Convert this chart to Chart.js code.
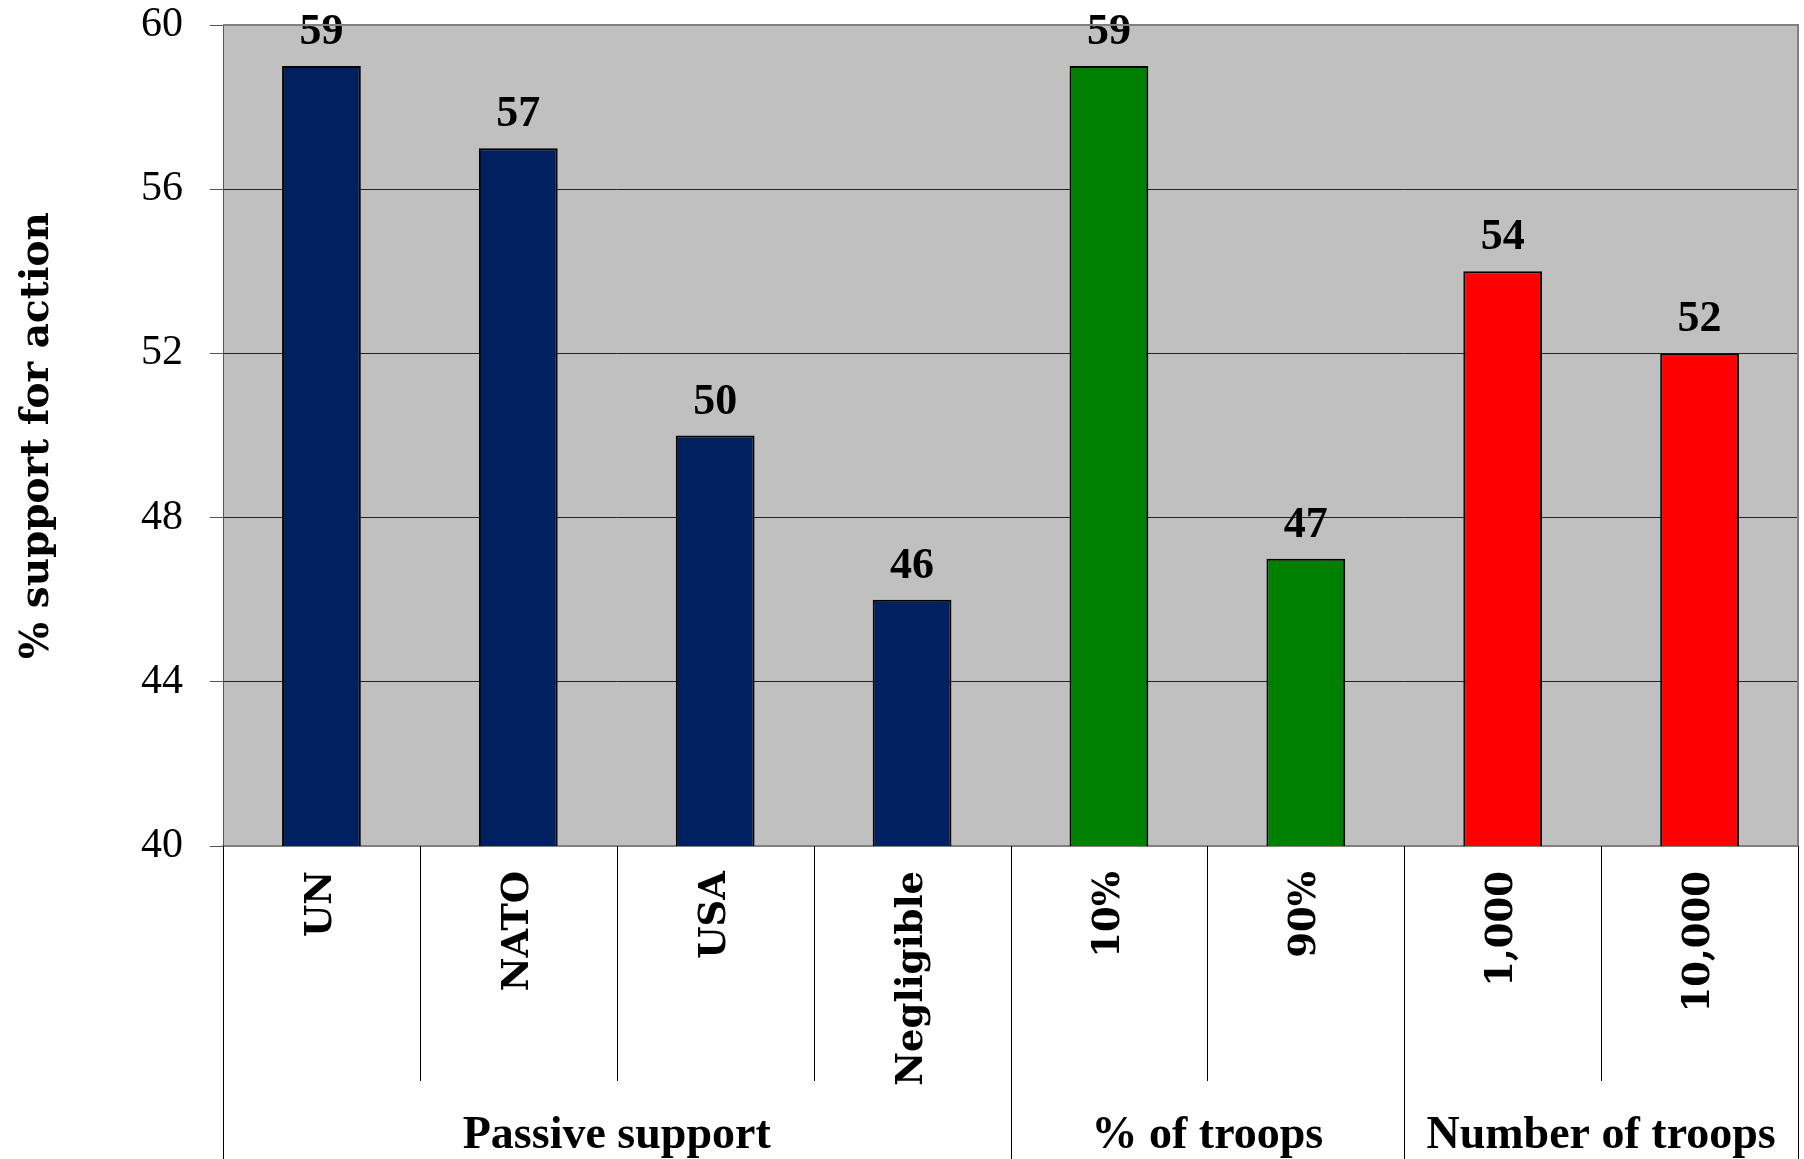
<!DOCTYPE html>
<html>
<head>
<meta charset="utf-8">
<script src="https://cdn.jsdelivr.net/npm/chart.js@4"></script>
<style>
  html, body { margin: 0; padding: 0; background: #fff; }
  #wrap { width: 1804px; height: 1159px; position: relative; }
</style>
</head>
<body>
<div id="wrap"><canvas id="supportChart"></canvas></div>
<script>
// data
const categories = ['UN', 'NATO', 'USA', 'Negligible', '10%', '90%', '1,000', '10,000'];
const supportValues = [59, 57, 50, 46, 59, 47, 54, 52];
const groupNames = ['Passive support', '% of troops', 'Number of troops'];
const groupSizes = [4, 2, 2];
const yTicks = [40, 44, 48, 52, 56, 60];

const barColors = ['#002060', '#002060', '#002060', '#002060', '#008000', '#008000', '#FF0000', '#FF0000'];

// grey plot background + border
const plotBackground = {
    id: 'plotBackground',
    beforeDraw(chart) {
        const { ctx, chartArea: a } = chart;
        ctx.save();
        ctx.fillStyle = '#C0C0C0';
        ctx.fillRect(a.left, a.top, a.right - a.left, a.bottom - a.top);
        ctx.restore();
    },
    afterDraw(chart) {
        const { ctx, chartArea: a } = chart;
        ctx.save();
        ctx.strokeStyle = '#808080';
        ctx.lineWidth = 2;
        ctx.beginPath();
        ctx.moveTo(a.left, a.top);
        ctx.lineTo(a.right, a.top);
        ctx.lineTo(a.right, a.bottom);
        ctx.stroke();
        ctx.restore();
    }
};

// numbers over the bars
const valueLabels = {
    id: 'valueLabels',
    afterDatasetsDraw(chart) {
        const { ctx } = chart;
        const meta = chart.getDatasetMeta(0);
        ctx.save();
        ctx.font = 'bold 44px "Liberation Serif"';
        ctx.fillStyle = '#000';
        ctx.textAlign = 'center';
        ctx.textBaseline = 'alphabetic';
        meta.data.forEach((bar, i) => {
            ctx.fillText(String(supportValues[i]), bar.x, bar.y - 22);
        });
        ctx.restore();
    }
};

// category dividers and group labels under the axis
const groupAxis = {
    id: 'groupAxis',
    afterDraw(chart) {
        const { ctx, chartArea: a } = chart;
        const x = chart.scales.x;
        const bottom = chart.height;
        const shortEnd = a.bottom + 235;
        const edge = i => {
            if (i <= 0) return a.left;
            if (i >= categories.length) return a.right;
            return (x.getPixelForValue(i - 1) + x.getPixelForValue(i)) / 2;
        };
        const groupEdges = [0];
        groupSizes.forEach(n => groupEdges.push(groupEdges[groupEdges.length - 1] + n));

        ctx.save();
        ctx.strokeStyle = '#000';
        ctx.lineWidth = 1;
        for (let i = 0; i <= categories.length; i++) {
            const px = Math.round(edge(i)) + 0.5;
            const isGroup = groupEdges.includes(i);
            ctx.beginPath();
            ctx.moveTo(px, a.bottom);
            ctx.lineTo(px, isGroup ? bottom : shortEnd);
            ctx.stroke();
        }
        ctx.font = 'bold 46px "Liberation Serif"';
        ctx.fillStyle = '#000';
        ctx.textAlign = 'center';
        ctx.textBaseline = 'alphabetic';
        groupNames.forEach((name, g) => {
            const cx = (edge(groupEdges[g]) + edge(groupEdges[g + 1])) / 2;
            ctx.fillText(name, cx, a.bottom + 302);
        });
        ctx.restore();
    }
};

const ctx = document.getElementById('supportChart').getContext('2d');
new Chart(ctx, {
    type: 'bar',
    data: {
        labels: categories,
        datasets: [{
            data: supportValues,
            backgroundColor: barColors,
            borderColor: '#000',
            borderWidth: 2,
            borderSkipped: false,
            barPercentage: 0.4,
            categoryPercentage: 1.0
        }]
    },
    options: {
        responsive: true,
        maintainAspectRatio: false,
        animation: false,
        layout: { padding: { top: 25, right: 6, left: 0, bottom: 0 } },
        plugins: {
            legend: { display: false },
            tooltip: { enabled: false }
        },
        scales: {
            x: {
                afterFit: s => { s.height = 313; s.paddingTop = 0; },
                grid: { display: false, drawTicks: false },
                border: { display: true, color: '#808080', width: 2 },
                ticks: {
                    autoSkip: false,
                    minRotation: 90,
                    maxRotation: 90,
                    padding: 25,
                    color: '#000',
                    font: { family: '"DejaVu Serif"', size: 37, weight: 'bold' }
                }
            },
            y: {
                min: 40,
                max: 60,
                afterFit: s => { s.width = 223; s.paddingTop = 0; s.paddingBottom = 0; },
                afterBuildTicks: s => { s.ticks = yTicks.map(v => ({ value: v })); },
                grid: { color: '#222', lineWidth: 1, tickLength: 13, tickColor: '#555' },
                border: { display: true, color: '#555', width: 1 },
                ticks: {
                    padding: 27,
                    color: '#000',
                    font: { family: '"Liberation Serif"', size: 42 }
                },
                title: {
                    display: true,
                    text: '% support for action',
                    color: '#000',
                    padding: { top: 14, bottom: 0 },
                    font: { family: '"DejaVu Serif"', size: 39, weight: 'bold' }
                }
            }
        }
    },
    plugins: [plotBackground, valueLabels, groupAxis]
});
</script>
</body>
</html>
